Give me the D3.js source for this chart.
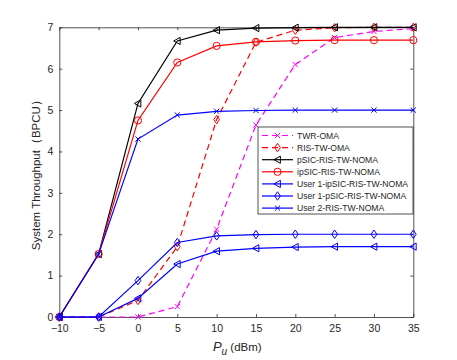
<!DOCTYPE html>
<html><head><meta charset="utf-8">
<script src="https://cdn.jsdelivr.net/npm/d3@7"></script>
<style>body{margin:0;background:#fff}svg{display:block}text{font-family:"Liberation Sans",Arial,sans-serif}</style>
</head><body>
<script>
const xValues = [-10, -5, 0, 5, 10, 15, 20, 25, 30, 35];
const twrOma = [0, 0, 0, 0.25, 2.12, 4.64, 6.1, 6.75, 6.9, 6.97];
const risTwOma = [0, 0, 0.4, 1.7, 4.77, 6.64, 6.93, 6.99, 7.0, 7.0];
const pSicNoma = [0, 1.52, 5.16, 6.67, 6.93, 6.98, 6.99, 7.0, 7.0, 7.0];
const ipSicNoma = [0, 1.52, 4.75, 6.15, 6.55, 6.65, 6.68, 6.69, 6.69, 6.69];
const user1IpSic = [0, 0, 0.45, 1.28, 1.59, 1.66, 1.69, 1.70, 1.70, 1.70];
const user1PSic = [0, 0, 0.88, 1.8, 1.96, 1.99, 2.0, 2.0, 2.0, 2.0];
const user2Noma = [0, 1.52, 4.3, 4.88, 4.97, 4.99, 5.0, 5.0, 5.0, 5.0];
const seriesNames = ["TWR-OMA", "RIS-TW-OMA", "pSIC-RIS-TW-NOMA", "ipSIC-RIS-TW-NOMA",
  "User 1-ipSIC-RIS-TW-NOMA", "User 1-pSIC-RIS-TW-NOMA", "User 2-RIS-TW-NOMA"];
const xTicks = [-10, -5, 0, 5, 10, 15, 20, 25, 30, 35];
const yTicks = [0, 1, 2, 3, 4, 5, 6, 7];

const series = [
  {name: seriesNames[0], values: twrOma, color: "#ff00ff", dash: true, marker: "x"},
  {name: seriesNames[1], values: risTwOma, color: "#ff0000", dash: true, marker: "diamond"},
  {name: seriesNames[2], values: pSicNoma, color: "#000000", dash: false, marker: "tri"},
  {name: seriesNames[3], values: ipSicNoma, color: "#ff0000", dash: false, marker: "circle"},
  {name: seriesNames[4], values: user1IpSic, color: "#0000ff", dash: false, marker: "tri"},
  {name: seriesNames[5], values: user1PSic, color: "#0000ff", dash: false, marker: "diamond"},
  {name: seriesNames[6], values: user2Noma, color: "#0000ff", dash: false, marker: "x"}
];

const W = 457, H = 360;
const m = {left: 59.3, right: 413.3, top: 27.3, bottom: 317};
const svg = d3.select("body").append("svg").attr("width", W).attr("height", H);
const x = d3.scaleLinear().domain([-10, 35]).range([m.left, m.right]);
const y = d3.scaleLinear().domain([0, 7]).range([m.bottom, m.top]);
const axisColor = "#262626";
const fmt = d3.format("d");

// axes
const gx = svg.append("g").attr("transform", `translate(0,${m.bottom})`)
  .call(d3.axisBottom(x).tickValues(xTicks).tickFormat(fmt).tickSizeInner(-3).tickSizeOuter(0).tickPadding(8));
const gy = svg.append("g").attr("transform", `translate(${m.left},0)`)
  .call(d3.axisLeft(y).tickValues(yTicks).tickFormat(fmt).tickSizeInner(-3).tickSizeOuter(0).tickPadding(6));
const gxt = svg.append("g").attr("transform", `translate(0,${m.top})`)
  .call(d3.axisTop(x).tickValues(xTicks).tickSizeInner(-3).tickSizeOuter(0).tickFormat(""));
const gyr = svg.append("g").attr("transform", `translate(${m.right},0)`)
  .call(d3.axisRight(y).tickValues(yTicks).tickSizeInner(-3).tickSizeOuter(0).tickFormat(""));
[gx, gy, gxt, gyr].forEach(g => {
  g.selectAll("path").attr("stroke", axisColor).attr("stroke-width", 0.8);
  g.selectAll("line").attr("stroke", axisColor).attr("stroke-width", 0.8);
  g.selectAll("text").attr("fill", axisColor).style("font-size", "10.5px").style("font-family", '"Liberation Sans",Arial,sans-serif');
});

// markers
function drawMarker(g, type, cx, cy, color) {
  const r = 3.6;
  if (type === "circle") {
    g.append("circle").attr("cx", cx).attr("cy", cy).attr("r", r).attr("fill", "none").attr("stroke", color).attr("stroke-width", 1);
  } else if (type === "diamond") {
    g.append("path").attr("d", `M${cx},${cy - r - 0.6}L${cx + r * 0.8},${cy}L${cx},${cy + r + 0.6}L${cx - r * 0.8},${cy}Z`)
      .attr("fill", "none").attr("stroke", color).attr("stroke-width", 1);
  } else if (type === "tri") {
    g.append("path").attr("d", `M${cx - r},${cy}L${cx + r * 0.8},${cy - r}L${cx + r * 0.8},${cy + r}Z`)
      .attr("fill", "none").attr("stroke", color).attr("stroke-width", 1);
  } else if (type === "x") {
    const s = 2.6;
    g.append("path").attr("d", `M${cx - s},${cy - s}L${cx + s},${cy + s}M${cx - s},${cy + s}L${cx + s},${cy - s}`)
      .attr("fill", "none").attr("stroke", color).attr("stroke-width", 1);
  }
}

const line = d3.line().x((d, i) => x(xValues[i])).y(d => y(d));
const plot = svg.append("g");
series.forEach(s => {
  plot.append("path").datum(s.values).attr("d", line).attr("fill", "none")
    .attr("stroke", s.color).attr("stroke-width", 1.2)
    .attr("stroke-dasharray", s.dash ? "6,4" : null);
  const mg = plot.append("g");
  s.values.forEach((v, i) => drawMarker(mg, s.marker, x(xValues[i]), y(v), s.color));
});

// legend
const lg = svg.append("g");
const lx0 = 258, ly0 = 127, lw = 155, lh = 87;
lg.append("rect").attr("x", lx0).attr("y", ly0).attr("width", lw).attr("height", lh)
  .attr("fill", "#fff").attr("stroke", axisColor).attr("stroke-width", 0.8);
series.forEach((s, i) => {
  const yy = ly0 + 8.5 + i * 12.1;
  lg.append("line").attr("x1", lx0 + 4).attr("x2", lx0 + 35).attr("y1", yy).attr("y2", yy)
    .attr("stroke", s.color).attr("stroke-width", 1.2).attr("stroke-dasharray", s.dash ? "6,4" : null);
  drawMarker(lg, s.marker, lx0 + 19.5, yy, s.color);
  lg.append("text").attr("x", lx0 + 39).attr("y", yy).attr("dy", "0.35em")
    .style("font-size", "8.6px").attr("fill", axisColor).text(s.name);
});

// axis labels
svg.append("text").attr("transform", `translate(40,${(m.top + m.bottom) / 2}) rotate(-90)`)
  .attr("text-anchor", "middle").style("font-size", "11.5px").attr("fill", axisColor)
  .text("System Throughput（BPCU）");
const xl = svg.append("text").attr("x", (m.left + m.right) / 2 + 1).attr("y", 351)
  .attr("text-anchor", "middle").style("font-size", "11.5px").attr("fill", axisColor);
xl.append("tspan").style("font-style", "italic").style("font-size", "13px").text("P");
xl.append("tspan").style("font-style", "italic").attr("dy", 4).style("font-size", "10px").text("u");
xl.append("tspan").attr("dy", -4).text(" (dBm)");
</script>
</body></html>
